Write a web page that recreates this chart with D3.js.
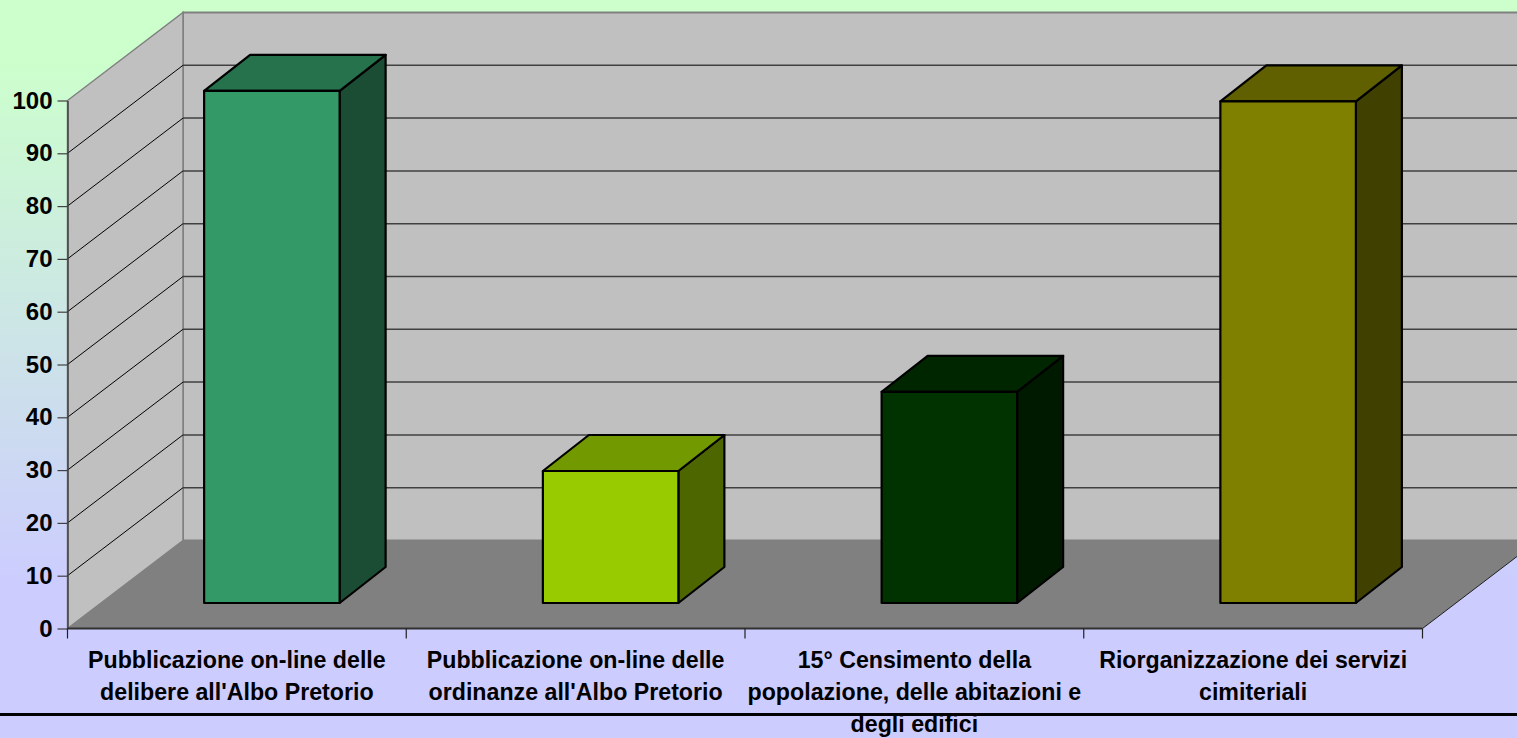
<!DOCTYPE html>
<html>
<head>
<meta charset="utf-8">
<style>
html, body { margin: 0; padding: 0; overflow: hidden; background: #ccccff; }
text { font-family: "Liberation Sans", Arial, sans-serif; font-weight: bold; fill: #000; }
</style>
<script src="https://cdn.jsdelivr.net/npm/d3@7"></script>
</head>
<body>
<div id="chart"></div>
<script>
const categories = [
  "Pubblicazione on-line delle delibere all'Albo Pretorio",
  "Pubblicazione on-line delle ordinanze all'Albo Pretorio",
  "15° Censimento della popolazione, delle abitazioni e degli edifici",
  "Riorganizzazione dei servizi cimiteriali"
];
const categoryLines = [
  ["Pubblicazione on-line delle", "delibere all'Albo Pretorio"],
  ["Pubblicazione on-line delle", "ordinanze all'Albo Pretorio"],
  ["15° Censimento della", "popolazione, delle abitazioni e", "degli edifici"],
  ["Riorganizzazione dei servizi", "cimiteriali"]
];
const values = [97, 25, 40, 95];
const frontColors = ["#339966", "#99cc00", "#003300", "#808000"];
const topColors = ["#26724c", "#739900", "#002600", "#606000"];
const sideColors = ["#1a4d33", "#4d6600", "#001a00", "#404000"];
const yTicks = [0, 10, 20, 30, 40, 50, 60, 70, 80, 90, 100];

const width = 1517;
const height = 738;
const plotLeft = 67.5, plotRight = 1422.5, plotBottom = 628.5, plotTop = 100.5;
const wallDx = 115.5, wallDy = -88;   // depth of the whole 3d box
const barDx = 46, barDy = -36;        // depth of one bar
const offDx = 35, offDy = -25.5;      // bars stand a bit inside the floor

const svg = d3.select("#chart").append("svg")
  .attr("width", width).attr("height", height)
  .style("display", "block");

const grad = svg.append("defs").append("linearGradient")
  .attr("id", "bg").attr("x1", 0).attr("y1", 0).attr("x2", 0).attr("y2", 1);
grad.append("stop").attr("offset", "0.08").attr("stop-color", "#ccffcc");
grad.append("stop").attr("offset", "0.8").attr("stop-color", "#ccccff");

svg.append("rect").attr("width", width).attr("height", height).attr("fill", "url(#bg)");

const x = d3.scaleBand().domain(categories).range([plotLeft, plotRight]).paddingInner(0.6).paddingOuter(0.3);
const y = d3.scaleLinear().domain([0, 100]).range([plotBottom, plotTop]);
const poly = pts => pts.map(p => p.join(",")).join(" ");

// back wall
svg.append("polygon")
  .attr("points", poly([[plotLeft + wallDx, y(100) + wallDy], [plotRight + wallDx, y(100) + wallDy],
    [plotRight + wallDx, y(0) + wallDy], [plotLeft + wallDx, y(0) + wallDy]]))
  .attr("fill", "#c0c0c0").attr("stroke", "#808080").attr("stroke-width", 2);

// left wall
svg.append("polygon")
  .attr("points", poly([[plotLeft, y(0)], [plotLeft + wallDx, y(0) + wallDy],
    [plotLeft + wallDx, y(100) + wallDy], [plotLeft, y(100)]]))
  .attr("fill", "#c0c0c0").attr("stroke", "#808080").attr("stroke-width", 1.5);

// floor
svg.append("polygon")
  .attr("points", poly([[plotLeft, y(0)], [plotRight, y(0)], [plotRight + wallDx, y(0) + wallDy], [plotLeft + wallDx, y(0) + wallDy]]))
  .attr("fill", "#808080");

// gridlines on both walls
const grid = svg.append("g").attr("fill", "none");
yTicks.filter(t => t > 0 && t < 100).forEach(t => {
  grid.append("line")
    .attr("x1", plotLeft + wallDx).attr("x2", plotRight + wallDx)
    .attr("y1", y(t) + wallDy).attr("y2", y(t) + wallDy)
    .attr("stroke", "#404040").attr("stroke-width", 1.5);
  grid.append("line")
    .attr("x1", plotLeft).attr("x2", plotLeft + wallDx)
    .attr("y1", y(t)).attr("y2", y(t) + wallDy)
    .attr("stroke", "#000").attr("stroke-width", 1);
});
// right edge of the floor
svg.append("line")
  .attr("x1", plotRight).attr("x2", plotRight + wallDx)
  .attr("y1", y(0)).attr("y2", y(0) + wallDy)
  .attr("stroke", "#202020").attr("stroke-width", 1);

// bars
const bars = svg.selectAll("g.bar").data(categories).enter().append("g").attr("class", "bar");
bars.each(function(d, i) {
  const g = d3.select(this);
  const x0 = x(d) + offDx, x1 = x0 + x.bandwidth();
  const yb = y(0) + offDy, yt = y(values[i]) + offDy;
  const face = pts => g.append("polygon")
    .attr("points", poly(pts))
    .attr("stroke", "#000").attr("stroke-width", 2.2).attr("stroke-linejoin", "round");
  face([[x1, yb], [x1 + barDx, yb + barDy], [x1 + barDx, yt + barDy], [x1, yt]]).attr("fill", sideColors[i]);
  face([[x0, yt], [x1, yt], [x1 + barDx, yt + barDy], [x0 + barDx, yt + barDy]]).attr("fill", topColors[i]);
  face([[x0, yb], [x1, yb], [x1, yt], [x0, yt]]).attr("fill", frontColors[i]);
});

// y axis
const yAxis = svg.append("g").attr("transform", `translate(${plotLeft},0)`)
  .call(d3.axisLeft(y).tickValues(yTicks).tickSize(10).tickPadding(5).tickSizeOuter(0));
yAxis.attr("font-family", null).attr("font-size", null);
yAxis.select(".domain").attr("stroke", "#404040").attr("stroke-width", 1.5);
yAxis.selectAll(".tick line").attr("stroke", "#404040").attr("stroke-width", 1.2);
yAxis.selectAll("text").attr("font-size", 24);

// x axis, ticks sit between the categories
const xAxis = svg.append("g").attr("transform", `translate(0,${plotBottom})`);
xAxis.append("line").attr("x1", plotLeft).attr("x2", plotRight).attr("stroke", "#303030").attr("stroke-width", 2);
d3.range(categories.length + 1).forEach(i => {
  const tx = plotLeft + x.step() * i;
  xAxis.append("line").attr("x1", tx).attr("x2", tx).attr("y1", 0).attr("y2", 10)
    .attr("stroke", "#202020").attr("stroke-width", 1.2);
});

// category labels
const labels = svg.append("g").attr("text-anchor", "middle").attr("font-size", 23.2);
categories.forEach((c, i) => {
  const cx = x(c) + x.bandwidth() / 2;
  categoryLines[i].forEach((line, j) => {
    labels.append("text").attr("x", cx).attr("y", 668 + j * 32).text(line);
  });
});

// rule across the page
svg.append("line").attr("x1", 0).attr("x2", width).attr("y1", 714.5).attr("y2", 714.5)
  .attr("stroke", "#000").attr("stroke-width", 3);
</script>
</body>
</html>
